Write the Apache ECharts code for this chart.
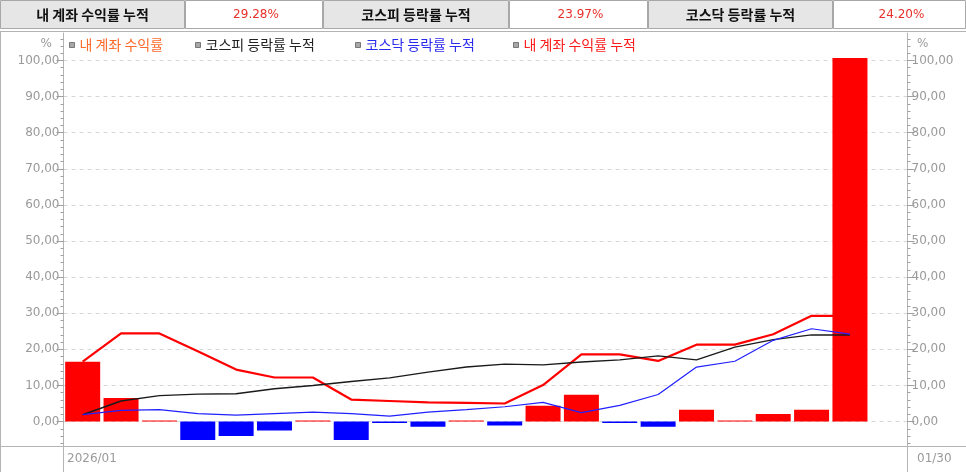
<!DOCTYPE html>
<html>
<head>
<meta charset="utf-8">
<script src="https://cdn.jsdelivr.net/npm/echarts@6/dist/echarts.min.js"></script>
<style>
  html, body { margin: 0; padding: 0; background: #fff; }
  #chart { width: 966px; height: 472px; }
</style>
</head>
<body>
<div id="chart"></div>
<script>
// trading days of 2026/01
const dates = ['01/02', '01/05', '01/06', '01/07', '01/08', '01/09', '01/12', '01/13', '01/14', '01/15', '01/16',
  '01/19', '01/20', '01/21', '01/22', '01/23', '01/26', '01/27', '01/28', '01/29', '01/30']

// 내 계좌 수익률 (daily, bars)
const myReturn = [16.6, 6.5, 0.1, -5.1, -4.0, -2.5, 0.1, -5.1, -0.4, -1.4, 0.3,
  -1.1, 4.4, 7.4, -0.4, -1.4, 3.3, 0.1, 2.1, 3.3, 100.7]
// 내 계좌 수익률 누적
const myCum = [16.6, 24.4, 24.4, 19.5, 14.4, 12.2, 12.2, 6.1, 5.7, 5.3, 5.2,
  5.0, 10.1, 18.6, 18.6, 16.8, 21.3, 21.3, 24.2, 29.28, 29.28]
// 코스피 등락률 누적
const kospiCum = [1.9, 5.7, 7.2, 7.6, 7.7, 9.1, 10.0, 11.1, 12.1, 13.7, 15.1,
  15.9, 15.7, 16.5, 17.1, 18.2, 17.1, 20.6, 22.7, 24.0, 23.97]
// 코스닥 등락률 누적
const kosdaqCum = [1.9, 3.1, 3.3, 2.2, 1.8, 2.2, 2.6, 2.2, 1.5, 2.6, 3.3,
  4.1, 5.3, 2.5, 4.5, 7.5, 15.1, 16.7, 22.5, 25.7, 24.2]

const majorTicks = [0, 10, 20, 30, 40, 50, 60, 70, 80, 90, 100]
const minorTicks = [-6, -4, -2, 0, 2, 4, 6, 8, 10, 12, 14, 16, 18, 20, 22, 24, 26, 28, 30, 32, 34, 36, 38,
  40, 42, 44, 46, 48, 50, 52, 54, 56, 58, 60, 62, 64, 66, 68, 70, 72, 74, 76, 78, 80, 82, 84, 86, 88, 90,
  92, 94, 96, 98, 100, 102, 104, 106]

const summary = [
  { label: '내 계좌 수익률 누적', value: '29.28%' },
  { label: '코스피 등락률 누적', value: '23.97%' },
  { label: '코스닥 등락률 누적', value: '24.20%' }
]

const legendNames = ['내 계좌 수익률', '코스피 등락률 누적', '코스닥 등락률 누적', '내 계좌 수익률 누적']
const legendColors = ['#ff6a2a', '#222222', '#2a2aee', '#ff1a1a']
const legendLeft = [69, 195, 355, 513]

const KR = '"Noto Sans CJK KR", sans-serif'
const NUM = '"DejaVu Sans", sans-serif'
const Y_MIN = -6.9
const Y_MAX = 107.6

const chart = echarts.init(document.getElementById('chart'), null, { renderer: 'canvas' })

function fmt(v) {
  return v.toFixed(2).replace('.', ',')
}

function yAxis(position, major) {
  return {
    type: 'value',
    position: position,
    min: Y_MIN,
    max: Y_MAX,
    axisLine: { show: major, lineStyle: { color: '#b4b4b4', width: 1 } },
    axisTick: {
      show: true,
      customValues: major ? majorTicks : minorTicks,
      length: major ? 7 : 3,
      lineStyle: { color: '#a0a0a0' }
    },
    axisLabel: {
      show: major,
      customValues: majorTicks,
      formatter: fmt,
      color: '#9a9a9a',
      fontFamily: NUM,
      fontSize: 12,
      margin: 4
    },
    splitLine: {
      show: major && position === 'left',
      lineStyle: { color: '#d6d6d6', type: [4, 4] }
    }
  }
}

// header cells: label (gray) + value (white)
const header = []
const cells = [[0, 185, 323], [323, 509, 648], [648, 833, 966]]
cells.forEach((c, i) => {
  header.push({
    type: 'rect', shape: { x: c[0] + 0.5, y: 0.5, width: c[1] - c[0] - 1, height: 28 },
    style: { fill: '#e6e6e6', stroke: '#a8a8a8' }
  })
  header.push({
    type: 'rect', shape: { x: c[1] + 0.5, y: 0.5, width: c[2] - c[1] - 1, height: 28 },
    style: { fill: '#ffffff', stroke: '#a8a8a8' }
  })
  header.push({
    type: 'text', x: (c[0] + c[1]) / 2, y: 15,
    style: { text: summary[i].label, fill: '#111', font: 'bold 14px ' + KR, align: 'center', verticalAlign: 'middle' }
  })
  header.push({
    type: 'text', x: (c[1] + c[2]) / 2 + 2, y: 15,
    style: { text: summary[i].value, fill: '#e8302a', font: '12px ' + NUM, align: 'center', verticalAlign: 'middle' }
  })
})

const frame = [
  { type: 'line', shape: { x1: 0, y1: 31.5, x2: 966, y2: 31.5 }, style: { stroke: '#b4b4b4' } },
  { type: 'line', shape: { x1: 0, y1: 446.5, x2: 966, y2: 446.5 }, style: { stroke: '#b4b4b4' } },
  { type: 'line', shape: { x1: 0.5, y1: 31.5, x2: 0.5, y2: 472 }, style: { stroke: '#b4b4b4' } },
  { type: 'line', shape: { x1: 63.5, y1: 446.5, x2: 63.5, y2: 472 }, style: { stroke: '#b4b4b4' } },
  { type: 'line', shape: { x1: 907.5, y1: 446.5, x2: 907.5, y2: 472 }, style: { stroke: '#b4b4b4' } },
  { type: 'text', x: 52, y: 44, style: { text: '%', fill: '#9a9a9a', font: '12px ' + NUM, align: 'right', verticalAlign: 'middle' } },
  { type: 'text', x: 917, y: 44, style: { text: '%', fill: '#9a9a9a', font: '12px ' + NUM, align: 'left', verticalAlign: 'middle' } },
  { type: 'text', x: 67, y: 459, style: { text: '2026/' + dates[0].slice(0, 2), fill: '#9a9a9a', font: '12px ' + NUM, verticalAlign: 'middle' } },
  { type: 'text', x: 917, y: 459, style: { text: dates[dates.length - 1], fill: '#9a9a9a', font: '12px ' + NUM, verticalAlign: 'middle' } }
]

const option = {
  animation: false,
  backgroundColor: '#fff',
  grid: { left: 63.5, right: 58.5, top: 33, bottom: 25.5, containLabel: false },
  legend: legendNames.map((name, i) => ({
    left: legendLeft[i],
    top: 38,
    icon: 'rect',
    itemWidth: 5,
    itemHeight: 5,
    padding: 0,
    itemStyle: { color: '#a8a8a8', borderColor: '#777', borderWidth: 1 },
    textStyle: { fontFamily: KR, fontSize: 14, color: legendColors[i] },
    data: [{ name: name }]
  })),
  xAxis: {
    type: 'category',
    data: dates.concat(['']),
    boundaryGap: true,
    axisLine: { show: false },
    axisTick: { show: false },
    axisLabel: { show: false },
    splitLine: { show: false }
  },
  yAxis: [yAxis('left', true), yAxis('right', true), yAxis('left', false), yAxis('right', false)],
  series: [
    {
      name: legendNames[0],
      type: 'bar',
      barWidth: 35,
      barMinHeight: 1,
      data: myReturn.map(v => ({ value: v, itemStyle: { color: v >= 0 ? '#ff0000' : '#0000ff' } })),
      z: 2
    },
    {
      name: legendNames[1],
      type: 'line',
      data: kospiCum,
      showSymbol: false,
      lineStyle: { color: '#1a1a1a', width: 1.4 },
      itemStyle: { color: '#1a1a1a' },
      z: 4
    },
    {
      name: legendNames[2],
      type: 'line',
      data: kosdaqCum,
      showSymbol: false,
      lineStyle: { color: '#2020ff', width: 1.2 },
      itemStyle: { color: '#2020ff' },
      z: 4
    },
    {
      name: legendNames[3],
      type: 'line',
      data: myCum,
      showSymbol: false,
      lineStyle: { color: '#ff0000', width: 2.2 },
      itemStyle: { color: '#ff0000' },
      z: 1
    }
  ],
  graphic: header.concat(frame)
}

chart.setOption(option)
</script>
</body>
</html>
